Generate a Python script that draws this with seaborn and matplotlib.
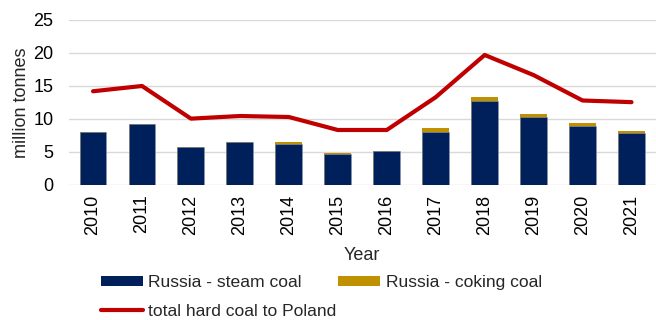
import numpy as np
import pandas as pd
import matplotlib
matplotlib.use("Agg")
import matplotlib.pyplot as plt
import seaborn as sns
from matplotlib.patches import Patch
from matplotlib.lines import Line2D

years = ["2010", "2011", "2012", "2013", "2014", "2015", "2016", "2017", "2018", "2019", "2020", "2021"]
steam = [8.0, 9.2, 5.8, 6.45, 6.25, 4.75, 5.1, 8.1, 12.8, 10.35, 9.0, 7.9]
coking = [0.0, 0.0, 0.0, 0.05, 0.2, 0.1, 0.0, 0.5, 0.6, 0.4, 0.4, 0.3]
total_poland = [14.2, 15.0, 10.05, 10.45, 10.3, 8.33, 8.33, 13.3, 19.7, 16.65, 12.8, 12.55]

navy = "#00205B"
gold = "#BF9000"
red = "#C00000"

sns.set_theme(style="white")
plt.rcParams["font.family"] = ["Liberation Sans", "DejaVu Sans"]
FS = 12.6
TFS = 13

df = pd.DataFrame({"year": years, "steam": steam, "coking": coking,
                   "stack": np.array(steam) + np.array(coking), "total": total_poland})

fig = plt.figure(figsize=(6.56, 3.2), dpi=100)
ax = fig.add_axes([0.1045, 0.422, 0.8955, 0.5155])

sns.barplot(data=df, x="year", y="stack", color=gold, saturation=1, width=0.55, ax=ax,
            edgecolor="none", zorder=2)
sns.barplot(data=df, x="year", y="steam", color=navy, saturation=1, width=0.55, ax=ax,
            edgecolor="#8a97b5", linewidth=0.4, zorder=3)
sns.lineplot(x=np.arange(len(years)), y=df["total"], color=red, linewidth=3, ax=ax, zorder=4)

ax.set_xlim(-0.5, len(years) - 0.5)
ax.set_ylim(0, 25)
ax.set_yticks([0, 5, 10, 15, 20, 25])
ax.grid(axis="y", color="#d9d9d9", linewidth=1, zorder=0)
ax.set_axisbelow(True)
for s in ax.spines.values():
    s.set_visible(False)
ax.tick_params(axis="both", length=0, labelsize=TFS, colors="black")
ax.tick_params(axis="x", pad=7)
ax.tick_params(axis="y", pad=11)
plt.setp(ax.get_xticklabels(), rotation=90)
ax.set_xlabel("Year", fontsize=TFS, labelpad=9)
ax.set_ylabel("million tonnes", fontsize=TFS, labelpad=2)

handles = [Patch(facecolor=navy, edgecolor="none"),
           Line2D([0], [0], color=red, lw=3),
           Patch(facecolor=gold, edgecolor="none")]
labels = ["Russia - steam coal", "total hard coal to Poland", "Russia - coking coal"]
fig.legend(handles, labels, ncol=2, loc="lower left", bbox_to_anchor=(0.13, -0.046),
           frameon=False, fontsize=FS, handlelength=2.4, handleheight=0.5,
           columnspacing=0.1, handletextpad=0.3, labelspacing=0.8)

fig.savefig("out.png", dpi=100)
